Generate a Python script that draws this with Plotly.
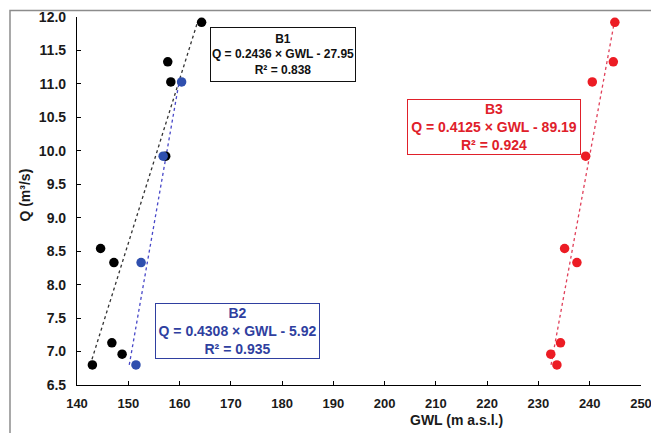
import numpy as np
import plotly.graph_objects as go

# Discharge (Q, m3/s) against groundwater level (GWL, m a.s.l.) for three boreholes
q_b1 = [11.92, 11.33, 11.03, 9.92, 8.54, 8.33, 7.13, 6.96, 6.80]
gwl_b1 = [164.3, 157.7, 158.3, 157.3, 144.6, 147.2, 146.8, 148.8, 143.0]

q_b2 = [11.03, 9.92, 8.33, 6.80]
gwl_b2 = [160.4, 156.8, 152.5, 151.5]

q_b3 = [11.92, 11.33, 11.03, 9.92, 8.54, 8.33, 7.13, 6.96, 6.80]
gwl_b3 = [244.9, 244.6, 240.5, 239.2, 235.1, 237.5, 234.3, 232.4, 233.6]

labels_b1 = ["B1", "Q = 0.2436 × GWL - 27.95", "R² = 0.838"]
labels_b2 = ["B2", "Q = 0.4308 × GWL - 5.92", "R² = 0.935"]
labels_b3 = ["B3", "Q = 0.4125 × GWL - 89.19", "R² = 0.924"]

x_ticks = list(range(140, 251, 10))
y_ticks = [6.5, 7.0, 7.5, 8.0, 8.5, 9.0, 9.5, 10.0, 10.5, 11.0, 11.5, 12.0]

FONT = "Liberation Sans"
series = [
    (gwl_b1, q_b1, "#000000", "#333333"),
    (gwl_b2, q_b2, "#2f4fae", "#4848c8"),
    (gwl_b3, q_b3, "#ec1c24", "#e0405a"),
]

fig = go.Figure()
# least-squares trend lines, drawn across each series' discharge span
for gwl, q, mcol, lcol in series:
    qa = np.array(q)
    slope, icpt = np.polyfit(np.array(gwl), qa, 1)
    qs = np.array([qa.min(), qa.max()])
    fig.add_trace(go.Scatter(x=(qs - icpt) / slope, y=qs, mode="lines",
                             line=dict(color=lcol, width=1.3, dash="dot"),
                             hoverinfo="skip", showlegend=False))
for gwl, q, mcol, lcol in series:
    fig.add_trace(go.Scatter(x=gwl, y=q, mode="markers",
                             marker=dict(color=mcol, size=9.5, line=dict(width=0)),
                             showlegend=False))


def box(lines, x, y, color, size, w, h):
    fig.add_annotation(x=x, y=y, xref="x", yref="y", showarrow=False,
                       text="<br>".join(lines), align="center",
                       font=dict(family=FONT, size=size, color=color, weight="bold"),
                       bordercolor=color, borderwidth=1, borderpad=1,
                       bgcolor="white", width=w, height=h)


box(labels_b1, 180.24, 11.447, "#111111", 12, 142, 51)
box(labels_b2, 171.38, 7.31, "#2f3fa0", 14, 161, 52)
box(labels_b3, 221.3, 10.36, "#e0202a", 14, 170, 52)

axis_common = dict(showline=True, linecolor="#000000", linewidth=1.2,
                   ticks="inside", ticklen=4, tickcolor="#000000",
                   showgrid=False, zeroline=False, mirror=False,
                   ticklabeloverflow="allow", automargin=False)

fig.update_xaxes(range=[140, 250], tickvals=x_ticks, ticklabelstandoff=6,
                 tickfont=dict(family=FONT, size=13, color="#1a1a1a", weight="bold"),
                 **axis_common)
fig.update_yaxes(range=[6.5, 12.0], tickvals=y_ticks, tickformat=".1f",
                 ticklabelstandoff=7,
                 tickfont=dict(family=FONT, size=14, color="#1a1a1a", weight="bold"),
                 **axis_common)

# axis titles
fig.add_annotation(x=0.673, y=-0.095, xref="paper", yref="paper", showarrow=False,
                   text="GWL (m a.s.l.)", xanchor="center", yanchor="middle",
                   font=dict(family=FONT, size=14, color="#1a1a1a", weight="bold"))
fig.add_annotation(x=-0.092, y=0.515, xref="paper", yref="paper", showarrow=False,
                   text="Q (m³/s)", textangle=-90, xanchor="center",
                   font=dict(family=FONT, size=14, color="#1a1a1a", weight="bold"))

# outer frame
fig.add_shape(type="rect", xref="paper", yref="paper",
              x0=-0.1188, x1=1.03, y0=-0.16, y1=1.0177,
              line=dict(color="#8c8c8c", width=1.5), fillcolor="rgba(0,0,0,0)",
              layer="below")

fig.update_layout(width=651, height=433,
                  margin=dict(l=77, r=10, t=17, b=48, autoexpand=False),
                  plot_bgcolor="white", paper_bgcolor="white",
                  showlegend=False)

fig.write_html("out.html")
